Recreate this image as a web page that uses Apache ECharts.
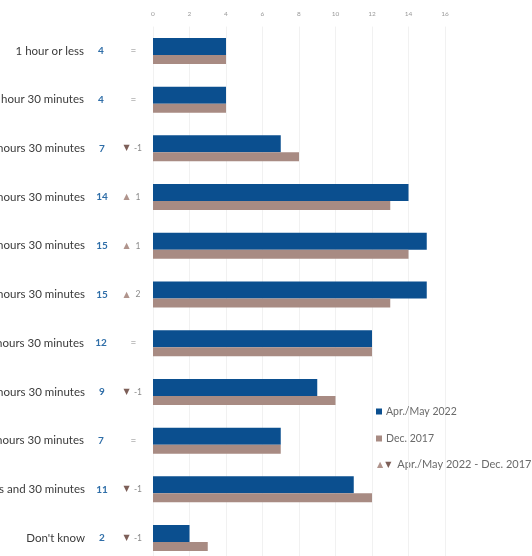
<!DOCTYPE html>
<html>
<head>
<meta charset="utf-8">
<script src="https://cdn.jsdelivr.net/npm/echarts@6/dist/echarts.min.js"></script>
<style>
  html, body { margin: 0; padding: 0; background: #ffffff; }
  #chart { width: 532px; height: 556px; }
</style>
</head>
<body>
<div id="chart"></div>
<script>
// Daily time bands, top to bottom
const categories = [
  '1 hour or less',
  '1 hour 30 minutes',
  '2 hours 30 minutes',
  '3 hours 30 minutes',
  '4 hours 30 minutes',
  '5 hours 30 minutes',
  '6 hours 30 minutes',
  '7 hours 30 minutes',
  '8 hours 30 minutes',
  'More than 8 hours and 30 minutes',
  "Don't know"
];
// Share of respondents (%)
const values2022 = [4, 4, 7, 14, 15, 15, 12, 9, 7, 11, 2];
const values2017 = [4, 4, 8, 13, 14, 13, 12, 10, 7, 12, 3];
const xTicks = [0, 2, 4, 6, 8, 10, 12, 14, 16];

const seriesNames = ['Apr./May 2022', 'Dec. 2017'];
const changeLegend = 'Apr./May 2022 - Dec. 2017';

const BLUE = '#0b4f8f';
const BROWN = '#a88b83';
const FONT = 'Lato';

// Change in points between the two surveys, in fixed-width boxes so columns line up
function changeLabel(i) {
  const d = values2022[i] - values2017[i];
  if (d > 0) return '{up|▲}{chg|' + d + '}';
  if (d < 0) return '{down|▼}{chg|' + d + '}';
  return '{eq|=}';
}

const chart = echarts.init(document.getElementById('chart'), null, { renderer: 'canvas' });

chart.setOption({
  backgroundColor: '#ffffff',
  animation: false,
  textStyle: { fontFamily: FONT },
  grid: {
    left: 153, right: 87, top: 26.6, bottom: -6.4,
    containLabel: false,
    outerBoundsMode: 'none'
  },
  xAxis: {
    type: 'value',
    position: 'top',
    min: xTicks[0],
    max: xTicks[xTicks.length - 1],
    interval: 2,
    axisLine: { show: false },
    axisTick: { show: false },
    axisLabel: { color: '#9a9a9a', fontSize: 6.5, margin: 9, fontFamily: FONT },
    splitLine: { show: true, lineStyle: { color: '#f1f1f1', width: 1 } }
  },
  yAxis: {
    type: 'category',
    data: categories,
    inverse: true,
    axisLine: { show: false },
    axisTick: { show: false },
    axisLabel: {
      margin: 8,
      formatter: function (value, idx) {
        return '{name|' + value + '}{sp|}{val|' + values2022[idx] + '}{gap|}' + changeLabel(idx);
      },
      rich: {
        name: { color: '#3a3a3a', fontSize: 11.5, fontFamily: FONT },
        sp: { width: 9 },
        val: { color: '#2f6ea8', fontSize: 10, fontWeight: 'bold', fontFamily: FONT, width: 16, align: 'center' },
        gap: { width: 12 },
        up: { color: '#b0948c', fontSize: 8, fontFamily: 'DejaVu Sans', width: 9, align: 'left' },
        down: { color: '#7d5f58', fontSize: 8, fontFamily: 'DejaVu Sans', width: 9, align: 'left' },
        chg: { color: '#8a8a8a', fontSize: 8.5, fontFamily: FONT, width: 14, align: 'left' },
        eq: { color: '#8a8a8a', fontSize: 10, fontFamily: FONT, width: 23, align: 'left', padding: [0, 0, 0, 1] }
      }
    }
  },
  legend: {
    orient: 'vertical',
    left: 371,
    top: 401,
    itemWidth: 6,
    itemHeight: 6,
    itemGap: 16,
    icon: 'rect',
    textStyle: { color: '#6a6a6a', fontSize: 10.5, fontFamily: FONT, padding: [0, 0, 0, -1] },
    data: seriesNames
  },
  graphic: [{
    type: 'text',
    left: 377,
    top: 459,
    style: {
      text: '{up|▲}{down|▼}{t|' + changeLegend + '}',
      rich: {
        up: { fill: '#b0948c', fontSize: 8, fontFamily: 'DejaVu Sans' },
        down: { fill: '#7d5f58', fontSize: 8, fontFamily: 'DejaVu Sans', padding: [0, 0, 0, 2] },
        t: { fill: '#6a6a6a', fontSize: 11, fontFamily: FONT, padding: [0, 0, 0, 6] }
      }
    }
  }],
  series: [
    {
      name: seriesNames[0],
      type: 'bar',
      data: values2022,
      barWidth: 17,
      barGap: '0%',
      itemStyle: { color: BLUE }
    },
    {
      name: seriesNames[1],
      type: 'bar',
      data: values2017,
      barWidth: 9,
      barGap: '0%',
      itemStyle: { color: BROWN }
    }
  ]
});
</script>
</body>
</html>
